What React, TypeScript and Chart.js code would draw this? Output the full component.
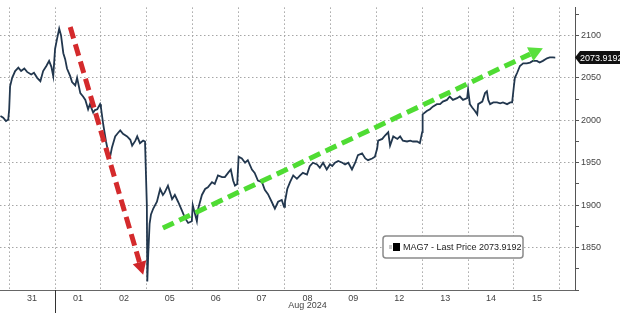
import React, { useEffect, useRef } from 'react';
import { Chart, registerables } from 'chart.js';

Chart.register(...registerables);

// ---- data ----
const dayLabels = ['31', '01', '02', '05', '06', '07', '08', '09', '12', '13', '14', '15'];
const monthLabel = 'Aug 2024';
const monthStartDay = 1; // index of "01"
const seriesName = 'MAG7 - Last Price';
const lastPrice = 2073.9192;

// time in trading-day units (0 = start of "31"), price values
const priceTimes = [
  -0.19, -0.13, -0.07, -0.02,
  0.0, 0.02, 0.065, 0.13, 0.2, 0.26, 0.33, 0.39, 0.48, 0.54, 0.61, 0.68, 0.74, 0.81, 0.87, 0.92, 0.96,
  1.0, 1.04, 1.09, 1.13, 1.18, 1.22, 1.26, 1.33, 1.37, 1.44, 1.48, 1.55, 1.61, 1.66, 1.72, 1.76, 1.83, 1.87, 1.92, 1.98,
  2.0, 2.05, 2.11, 2.16, 2.2, 2.24, 2.31, 2.37, 2.42, 2.48, 2.57, 2.64, 2.68, 2.75, 2.79, 2.85, 2.92, 2.96,
  3.0, 3.01, 3.03, 3.06, 3.09, 3.14, 3.22, 3.29, 3.35, 3.39, 3.46, 3.55, 3.61, 3.68, 3.77, 3.83, 3.9, 3.98,
  4.0, 4.09, 4.12, 4.2, 4.27, 4.33, 4.42, 4.48, 4.55, 4.64, 4.7, 4.77, 4.83, 4.88, 4.92, 4.97,
  5.0, 5.07, 5.14, 5.2, 5.29, 5.35, 5.42, 5.51, 5.57, 5.64, 5.72, 5.79, 5.86, 5.94, 5.99,
  6.01, 6.06, 6.12, 6.19, 6.27, 6.34, 6.4, 6.49, 6.55, 6.62, 6.71, 6.77, 6.84, 6.92, 6.99,
  7.04, 7.1, 7.17, 7.26, 7.32, 7.39, 7.47, 7.54, 7.6, 7.69, 7.76, 7.82, 7.91, 7.97,
  8.02, 8.04, 8.13, 8.19, 8.26, 8.3, 8.37, 8.46, 8.52, 8.58, 8.67, 8.74, 8.8, 8.89, 8.95,
  9.0, 9.01, 9.1, 9.17, 9.23, 9.32, 9.39, 9.45, 9.54, 9.6, 9.67, 9.76, 9.82, 9.89, 9.98,
  10.0, 10.04, 10.09, 10.15, 10.2, 10.22, 10.31, 10.37, 10.41, 10.44, 10.48, 10.55, 10.63, 10.7, 10.76, 10.85, 10.92, 10.96,
  11.0, 11.02, 11.07, 11.13, 11.2, 11.28, 11.35, 11.41, 11.5, 11.56, 11.63, 11.72, 11.78, 11.85, 11.9,
];
const priceValues = [
  2005, 2003, 1999, 2001,
  2013, 2040, 2050, 2058, 2062, 2058, 2061, 2057, 2054, 2056, 2050, 2046, 2058, 2064, 2070, 2063, 2052,
  2084, 2095, 2108, 2100, 2079, 2072, 2061, 2052, 2045, 2041, 2050, 2032, 2028, 2024, 2013, 2019, 2009, 2012, 2013, 2019,
  2015, 1995, 1975, 1962, 1957, 1968, 1981, 1985, 1988, 1984, 1981, 1977, 1970, 1976, 1981, 1973, 1976, 1975,
  1900, 1810, 1842, 1878, 1889, 1896, 1904, 1919, 1912, 1915, 1923, 1907, 1912, 1904, 1893, 1885, 1879, 1881,
  1900, 1881, 1896, 1912, 1919, 1921, 1927, 1925, 1935, 1933, 1933, 1938, 1942, 1929, 1923, 1925,
  1957, 1955, 1950, 1953, 1942, 1938, 1929, 1927, 1918, 1913, 1904, 1896, 1904, 1906, 1898,
  1904, 1919, 1927, 1935, 1931, 1935, 1938, 1936, 1946, 1950, 1948, 1944, 1950, 1942, 1948,
  1946, 1950, 1952, 1950, 1948, 1950, 1942, 1950, 1959, 1961, 1955, 1953, 1955, 1957,
  1967, 1976, 1978, 1982, 1986, 1970, 1981, 1978, 1981, 1976, 1975, 1976, 1975, 1975, 1973,
  1986, 2007, 2011, 2013, 2016, 2019, 2019, 2022, 2024, 2028, 2024, 2026, 2028, 2024, 2026,
  2036, 2019, 2015, 2011, 2007, 2019, 2022, 2032, 2034, 2024, 2019, 2021, 2021, 2020, 2021, 2019, 2021, 2021,
  2041, 2050, 2056, 2064, 2067, 2067, 2068, 2070, 2070, 2068, 2070, 2073, 2074, 2074, lastPrice,
];

// annotation arrows: [start, end] in (day, price)
const redArrowX = [1.33, 2.92];
const redArrowY = [2110, 1818];
const greenArrowX = [3.35, 11.63];
const greenArrowY = [1873, 2085];

const xMin = -0.2;
const xMax = 12.33;
const yMin = 1800;
const yMax = 2133;
const yStep = 25;

const FONT = '"Liberation Sans", Arial, sans-serif';

const overlayPlugin = {
  id: 'overlay',
  afterDatasetsDraw(chart: any) {
    const { ctx, scales } = chart;
    const xs = scales.x;
    const ys = scales.y;
    const drawArrow = (ax: number[], ay: number[], color: string, headColor: string, head: number, hw: number) => {
      const x1 = xs.getPixelForValue(ax[0]);
      const y1 = ys.getPixelForValue(ay[0]);
      const x2 = xs.getPixelForValue(ax[1]);
      const y2 = ys.getPixelForValue(ay[1]);
      const ang = Math.atan2(y2 - y1, x2 - x1);
      const bx = x2 - head * Math.cos(ang);
      const by = y2 - head * Math.sin(ang);
      ctx.save();
      ctx.strokeStyle = color;
      ctx.lineWidth = 5;
      ctx.setLineDash([12, 6]);
      ctx.beginPath();
      ctx.moveTo(x1, y1);
      ctx.lineTo(bx, by);
      ctx.stroke();
      ctx.setLineDash([]);
      ctx.fillStyle = headColor;
      ctx.beginPath();
      ctx.moveTo(x2, y2);
      ctx.lineTo(bx + hw * Math.sin(ang), by - hw * Math.cos(ang));
      ctx.lineTo(bx - hw * Math.sin(ang), by + hw * Math.cos(ang));
      ctx.closePath();
      ctx.fill();
      ctx.restore();
    };
    drawArrow(redArrowX, redArrowY, '#d42a2c', '#cf2529', 13, 7);
    drawArrow(greenArrowX, greenArrowY, '#4fdc33', '#5ae03e', 14, 7.5);
  },
  afterDraw(chart: any) {
    const { ctx, scales, chartArea } = chart;
    const xs = scales.x;
    const ys = scales.y;
    ctx.save();
    // month separator line
    const mx = Math.round(xs.getPixelForValue(monthStartDay)) + 0.5;
    ctx.strokeStyle = '#333';
    ctx.lineWidth = 1;
    ctx.beginPath();
    ctx.moveTo(mx, chartArea.bottom);
    ctx.lineTo(mx, chart.height);
    ctx.stroke();
    // month label
    ctx.fillStyle = '#444';
    ctx.font = `9px ${FONT}`;
    ctx.textAlign = 'center';
    ctx.textBaseline = 'middle';
    ctx.fillText(monthLabel, xs.getPixelForValue(6.5), 306);

    // last price tag
    const py = ys.getPixelForValue(lastPrice);
    const left = chartArea.right + 3;
    ctx.fillStyle = '#111';
    ctx.beginPath();
    ctx.moveTo(chartArea.right, py);
    ctx.lineTo(left + 2, py - 6.5);
    ctx.lineTo(chart.width, py - 6.5);
    ctx.lineTo(chart.width, py + 6.5);
    ctx.lineTo(left + 2, py + 6.5);
    ctx.closePath();
    ctx.fill();
    ctx.fillStyle = '#fff';
    ctx.font = `9px ${FONT}`;
    ctx.textAlign = 'left';
    ctx.fillText(lastPrice.toFixed(4), left + 2, py + 0.5);

    // legend box
    const lx = 383, ly = 236, lw = 140, lh = 22;
    ctx.fillStyle = '#fff';
    ctx.strokeStyle = '#8a8a8a';
    ctx.lineWidth = 1.5;
    ctx.beginPath();
    (ctx as any).roundRect(lx, ly, lw, lh, 3);
    ctx.fill();
    ctx.stroke();
    ctx.fillStyle = '#c8c8c8';
    ctx.fillRect(lx + 6, ly + 9, 3, 4);
    ctx.fillStyle = '#000';
    ctx.fillRect(lx + 10, ly + 7, 7, 8);
    ctx.fillStyle = '#222';
    ctx.font = `9px ${FONT}`;
    ctx.textAlign = 'left';
    ctx.textBaseline = 'middle';
    ctx.fillText(`${seriesName} ${lastPrice.toFixed(4)}`, lx + 20, ly + lh / 2 + 0.5);
    ctx.restore();
  },
};

export default function App() {
  const ref = useRef<HTMLCanvasElement | null>(null);
  useEffect(() => {
    document.body.style.margin = '0';
    const canvas = ref.current;
    if (!canvas) return;
    const data = priceTimes.map((t, i) => ({ x: t, y: priceValues[i] }));
    const chart = new Chart(canvas, {
      type: 'line',
      data: {
        datasets: [
          {
            label: seriesName,
            data,
            borderColor: '#22374e',
            borderWidth: 1.8,
            pointRadius: 0,
            tension: 0,
            fill: false,
          },
        ],
      },
      options: {
        animation: false,
        responsive: false,
        maintainAspectRatio: false,
        layout: { padding: 0 },
        plugins: { legend: { display: false }, tooltip: { enabled: false } },
        scales: {
          x: {
            type: 'linear',
            min: xMin,
            max: xMax,
            afterBuildTicks: (scale: any) => {
              scale.ticks = dayLabels.map((_, i) => ({ value: i + 0.5 }));
            },
            afterFit: (scale: any) => {
              scale.height = 23;
            },
            ticks: {
              autoSkip: false,
              maxRotation: 0,
              padding: 3,
              color: '#444',
              font: { size: 9, family: FONT },
              callback: (v: any) => {
                const i = Math.round(Number(v) - 0.5);
                return dayLabels[i] ?? '';
              },
            },
            grid: {
              offset: true,
              drawTicks: false,
              color: '#a6a6a6',
              lineWidth: 1,
            },
            border: { display: true, color: '#666', width: 1, dash: [1.5, 2.5] },
          },
          y: {
            type: 'linear',
            position: 'right',
            min: yMin,
            max: yMax,
            afterFit: (scale: any) => {
              scale.width = 45;
            },
            ticks: {
              stepSize: yStep,
              includeBounds: false,
              padding: 2,
              color: '#444',
              font: { size: 9, family: FONT },
              callback: (v: any) => {
                const n = Number(v);
                return n % 50 === 0 && n > yMin ? String(n) : '';
              },
            },
            grid: {
              drawTicks: true,
              tickLength: 4,
              tickColor: '#555',
              color: (c: any) => {
                const v = c.tick ? c.tick.value : 0;
                return v % 50 === 0 && v > yMin ? '#a6a6a6' : 'rgba(0,0,0,0)';
              },
              lineWidth: 1,
            },
            border: { display: true, color: '#555', width: 1, dash: [1.5, 2.5] },
          },
        },
      },
      plugins: [overlayPlugin],
    });
    return () => chart.destroy();
  }, []);
  return <canvas ref={ref} width={620} height={313} style={{ display: 'block', background: '#fff' }} />;
}
